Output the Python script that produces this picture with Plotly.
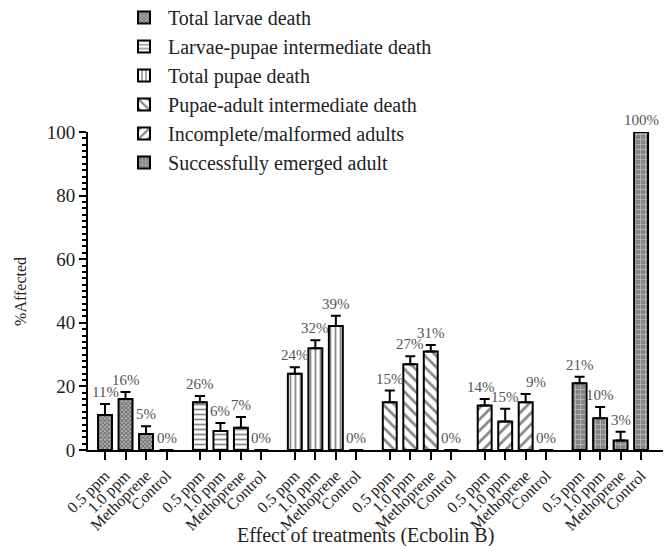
import plotly.graph_objects as go

# ---------------- data ----------------
treatments = ["0.5 ppm", "1.0 ppm", "Methoprene", "Control"]
series_names = [
    "Total larvae death",
    "Larvae-pupae intermediate death",
    "Total pupae death",
    "Pupae-adult intermediate death",
    "Incomplete/malformed adults",
    "Successfully emerged adult",
]
total_larvae = [11, 16, 5, 0]
larvae_pupae = [15, 6, 7, 0]
total_pupae = [24, 32, 39, 0]
pupae_adult = [15, 27, 31, 0]
malformed = [14, 9, 15, 0]
emerged = [21, 10, 3, 100]

err_total_larvae = [3.5, 2.2, 2.5, None]
err_larvae_pupae = [2.0, 2.5, 3.4, None]
err_total_pupae = [2.0, 2.5, 3.2, None]
err_pupae_adult = [3.7, 2.5, 2.0, None]
err_malformed = [2.0, 4.0, 2.6, None]
err_emerged = [2.0, 3.5, 2.7, None]

lbl_total_larvae = ["11%", "16%", "5%", "0%"]
lbl_larvae_pupae = ["26%", "6%", "7%", "0%"]
lbl_total_pupae = ["24%", "32%", "39%", "0%"]
lbl_pupae_adult = ["15%", "27%", "31%", "0%"]
lbl_malformed = ["14%", "15%", "9%", "0%"]
lbl_emerged = ["21%", "10%", "3%", "100%"]

x_title = "Effect of treatments (Ecbolin B)"
y_title = "%Affected"

values = [total_larvae, larvae_pupae, total_pupae, pupae_adult, malformed, emerged]
errors = [err_total_larvae, err_larvae_pupae, err_total_pupae, err_pupae_adult, err_malformed, err_emerged]
labels = [lbl_total_larvae, lbl_larvae_pupae, lbl_total_pupae, lbl_pupae_adult, lbl_malformed, lbl_emerged]

# ---------------- styles ----------------
GROUP_STEP = 4.63
patterns = [
    dict(shape="x", size=3, solidity=0.55, fgcolor="#1a1a1a", bgcolor="#b8b8b8"),
    dict(shape="-", size=5, solidity=0.35, fgcolor="#111", bgcolor="#ffffff"),
    dict(shape="|", size=5, solidity=0.35, fgcolor="#111", bgcolor="#ffffff"),
    dict(shape="\\", size=8, solidity=0.35, fgcolor="#111", bgcolor="#ffffff"),
    dict(shape="/", size=8, solidity=0.35, fgcolor="#111", bgcolor="#ffffff"),
    dict(shape="+", size=5, solidity=0.3, fgcolor="#f0f0f0", bgcolor="#858585"),
]
label_xshift = [
    [0, 0, 0, 0],
    [0, 0, 0, 0],
    [0, 0, 0, 0],
    [0, 0, 0, 0],
    [-4, 0, 10, 0],
    [0, 0, 0, 0],
]
FONT = "Liberation Serif"

fig = go.Figure()
tickvals, ticktext = [], []
annotations = []
for g, name in enumerate(series_names):
    xs = [g * GROUP_STEP + i for i in range(len(treatments))]
    tickvals += xs
    ticktext += treatments
    fig.add_trace(go.Bar(
        x=xs, y=values[g], name=name, width=0.68,
        legendgroup=name,
        marker=dict(color="white", line=dict(color="black", width=2), pattern=patterns[g]),
        error_y=dict(type="data", symmetric=False,
                     array=[e if e is not None else 0 for e in errors[g]],
                     arrayminus=[0] * len(xs),
                     visible=True, color="black", thickness=2, width=5),
    ))
    for i, x in enumerate(xs):
        e = errors[g][i] or 0
        annotations.append(dict(
            x=x, y=values[g][i] + e, xref="x", yref="y", text=labels[g][i],
            showarrow=False, yanchor="bottom", yshift=2, xshift=label_xshift[g][i],
            font=dict(family=FONT, size=15, color="#555"),
        ))

annotations.append(dict(
    x=0.476, y=-0.27, xref="paper", yref="paper", text=x_title, showarrow=False,
    xanchor="center", yanchor="middle", font=dict(family=FONT, size=20, color="#222"),
))
annotations.append(dict(
    x=-0.117, y=0.5, xref="paper", yref="paper", text=y_title, showarrow=False,
    xanchor="center", yanchor="middle", textangle=-90,
    font=dict(family=FONT, size=16, color="#222"),
))

fig.update_layout(
    width=671, height=546,
    margin=dict(l=80, r=9, t=124, b=104, autoexpand=False),
    plot_bgcolor="white", paper_bgcolor="white",
    barmode="overlay",
    showlegend=True,
    legend=dict(x=0.055, y=1.421, xref="paper", yref="paper",
                xanchor="left", yanchor="top",
                font=dict(family=FONT, size=20, color="#222"),
                tracegroupgap=0, bgcolor="rgba(0,0,0,0)", traceorder="grouped",
                itemwidth=38),
    annotations=annotations,
    font=dict(family=FONT, color="#222"),
)
fig.update_xaxes(
    range=[-0.83, 27.56], tickmode="array", tickvals=tickvals, ticktext=ticktext,
    tickangle=-45, ticks="outside", ticklen=8, tickwidth=2, tickcolor="black",
    showline=True, linecolor="black", linewidth=2, showgrid=False, zeroline=False,
    tickfont=dict(family=FONT, size=16, color="#222"),
)
fig.update_yaxes(
    range=[0, 100], tickvals=[0, 20, 40, 60, 80, 100],
    ticks="outside", ticklen=7, tickwidth=2, tickcolor="black",
    minor=dict(dtick=2, ticks="outside", ticklen=4, tickwidth=1.5, tickcolor="black"),
    showline=True, linecolor="black", linewidth=2, showgrid=False, zeroline=False,
    tickfont=dict(family=FONT, size=19, color="#222"),
)

fig.write_html("out.html")
